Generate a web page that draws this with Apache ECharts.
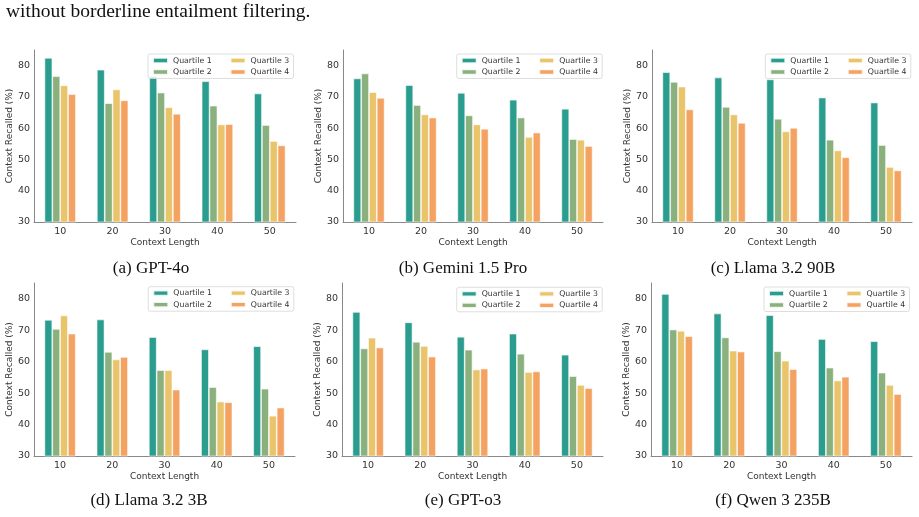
<!DOCTYPE html>
<html>
<head>
<meta charset="utf-8">
<script src="https://cdn.jsdelivr.net/npm/echarts@6/dist/echarts.min.js"></script>
<style>
html,body{margin:0;padding:0;background:#fff;}
#c{width:919px;height:517px;}
</style>
</head>
<body>
<div id="c"></div>
<script>
const categories = ['10', '20', '30', '40', '50'];
const quartileNames = ['Quartile 1', 'Quartile 2', 'Quartile 3', 'Quartile 4'];
const quartileColors = ['#2a9d8f', '#8ab17d', '#e9c46a', '#f4a261'];
const panelCaptions = ['(a) GPT-4o', '(b) Gemini 1.5 Pro', '(c) Llama 3.2 90B', '(d) Llama 3.2 3B', '(e) GPT-o3', '(f) Qwen 3 235B'];
const headerText = 'without borderline entailment filtering.';
const yMin = 30, yMax = 85, yStep = 10;

// values per model: [Quartile 1, Quartile 2, Quartile 3, Quartile 4], each over categories
const gpt4o = [
  [82.5, 78.7, 76.6, 75.0, 71.1],
  [76.6, 68.0, 71.4, 67.2, 61.0],
  [73.7, 72.4, 66.7, 61.2, 55.9],
  [70.9, 68.9, 64.6, 61.3, 54.5]
];
const gemini15pro = [
  [75.9, 73.8, 71.3, 69.1, 66.2],
  [77.5, 67.4, 64.1, 63.4, 56.5],
  [71.5, 64.4, 61.2, 57.2, 56.3],
  [69.7, 63.4, 59.8, 58.6, 54.3]
];
const llama90b = [
  [77.9, 76.2, 75.6, 69.8, 68.2],
  [74.8, 66.8, 63.0, 56.3, 54.6],
  [73.3, 64.4, 59.0, 52.9, 47.6],
  [66.0, 61.7, 60.1, 50.7, 46.5]
];
const llama3b = [
  [73.3, 73.4, 67.8, 63.9, 64.9],
  [70.4, 63.1, 57.3, 51.9, 51.4],
  [74.7, 60.7, 57.3, 47.3, 42.8],
  [68.9, 61.5, 51.1, 47.1, 45.4]
];
const gpto3 = [
  [75.8, 72.5, 67.9, 68.9, 62.2],
  [64.2, 66.3, 63.8, 62.5, 55.4],
  [67.6, 65.0, 57.5, 56.7, 52.6],
  [64.5, 61.6, 57.8, 56.9, 51.6]
];
const qwen235b = [
  [81.5, 75.3, 74.8, 67.2, 66.5],
  [70.2, 67.7, 63.3, 58.1, 56.5],
  [69.8, 63.5, 60.3, 54.0, 52.6],
  [68.1, 63.2, 57.6, 55.2, 49.7]
];
const panelData = [gpt4o, gemini15pro, llama90b, llama3b, gpto3, qwen235b];

// layout
const grids = [
  {left: 34, top: 50, width: 262, height: 172},
  {left: 343, top: 50, width: 260, height: 172},
  {left: 652, top: 50, width: 260, height: 172},
  {left: 34, top: 283, width: 261, height: 173},
  {left: 342, top: 283, width: 261, height: 173},
  {left: 651, top: 283, width: 261, height: 173}
];
const legendPos = [
  [148, 54], [456.7, 54], [765.3, 54],
  [148.3, 286.7], [456.7, 287.3], [764, 287]
];
const captionPos = [[151, 269], [463, 269], [773, 269], [149, 501], [463, 501], [773, 501]];

const FONT = 'DejaVu Sans';
const TXT = '#333';

const xAxes = [], yAxes = [], series = [], legends = [], graphics = [];
grids.forEach((g, i) => {
  xAxes.push({
    type: 'category', gridIndex: i, data: categories,
    name: 'Context Length', nameLocation: 'middle', nameGap: 13,
    nameTextStyle: {fontFamily: FONT, fontSize: 9, color: TXT},
    axisLine: {lineStyle: {color: '#888', width: 1}},
    axisTick: {show: false},
    axisLabel: {fontFamily: FONT, fontSize: 9.5, color: TXT, margin: 5},
    splitLine: {show: false}
  });
  yAxes.push({
    type: 'value', gridIndex: i, min: yMin, max: yMax, interval: yStep,
    name: 'Context Recalled (%)', nameLocation: 'middle', nameGap: 17,
    nameTextStyle: {fontFamily: FONT, fontSize: 9, color: TXT},
    axisLine: {show: true, lineStyle: {color: '#888', width: 1}},
    axisTick: {show: false},
    axisLabel: {fontFamily: FONT, fontSize: 9.5, color: TXT, margin: 4, showMaxLabel: false},
    splitLine: {show: false}
  });
  panelData[i].forEach((vals, k) => {
    series.push({
      type: 'bar', name: quartileNames[k], xAxisIndex: i, yAxisIndex: i,
      data: vals, barWidth: '15%', barGap: '0%',
      itemStyle: {color: quartileColors[k], borderColor: 'rgba(255,255,255,0.85)', borderWidth: 0.7},
      emphasis: {disabled: true}
    });
  });
  legends.push({
    left: legendPos[i][0], top: legendPos[i][1], width: 170,
    orient: 'horizontal',
    data: [quartileNames[0], quartileNames[2], quartileNames[1], quartileNames[3]],
    icon: 'rect', itemWidth: 15, itemHeight: 5.3, itemGap: 2.5,
    padding: [2, 4, 2, 4],
    backgroundColor: 'rgba(255,255,255,0.8)',
    borderColor: '#d6d6d6', borderWidth: 0.8, borderRadius: 2,
    selectedMode: false,
    formatter: name => (name === quartileNames[0] || name === quartileNames[1]) ? '{a|' + name + '}' : '{b|' + name + '}',
    textStyle: {fontFamily: FONT, fontSize: 7.8, color: TXT, lineHeight: 9,
      rich: {
        a: {width: 54, fontFamily: FONT, fontSize: 7.8, color: TXT, lineHeight: 9},
        b: {width: 39, fontFamily: FONT, fontSize: 7.8, color: TXT, lineHeight: 9}
      }}
  });
  graphics.push({
    type: 'text', x: captionPos[i][0], y: captionPos[i][1],
    style: {text: panelCaptions[i], fill: '#111', font: '17px "Liberation Serif"', textAlign: 'center', textVerticalAlign: 'middle'}
  });
});
graphics.push({
  type: 'text', x: 6, y: 12,
  style: {text: headerText, fill: '#111', font: '19.5px "Liberation Serif"', textAlign: 'left', textVerticalAlign: 'middle'}
});

const chart = echarts.init(document.getElementById('c'), null, {renderer: 'canvas'});
chart.setOption({
  animation: false,
  backgroundColor: '#fff',
  grid: grids,
  xAxis: xAxes,
  yAxis: yAxes,
  legend: legends,
  series: series,
  graphic: graphics
});
</script>
</body>
</html>
